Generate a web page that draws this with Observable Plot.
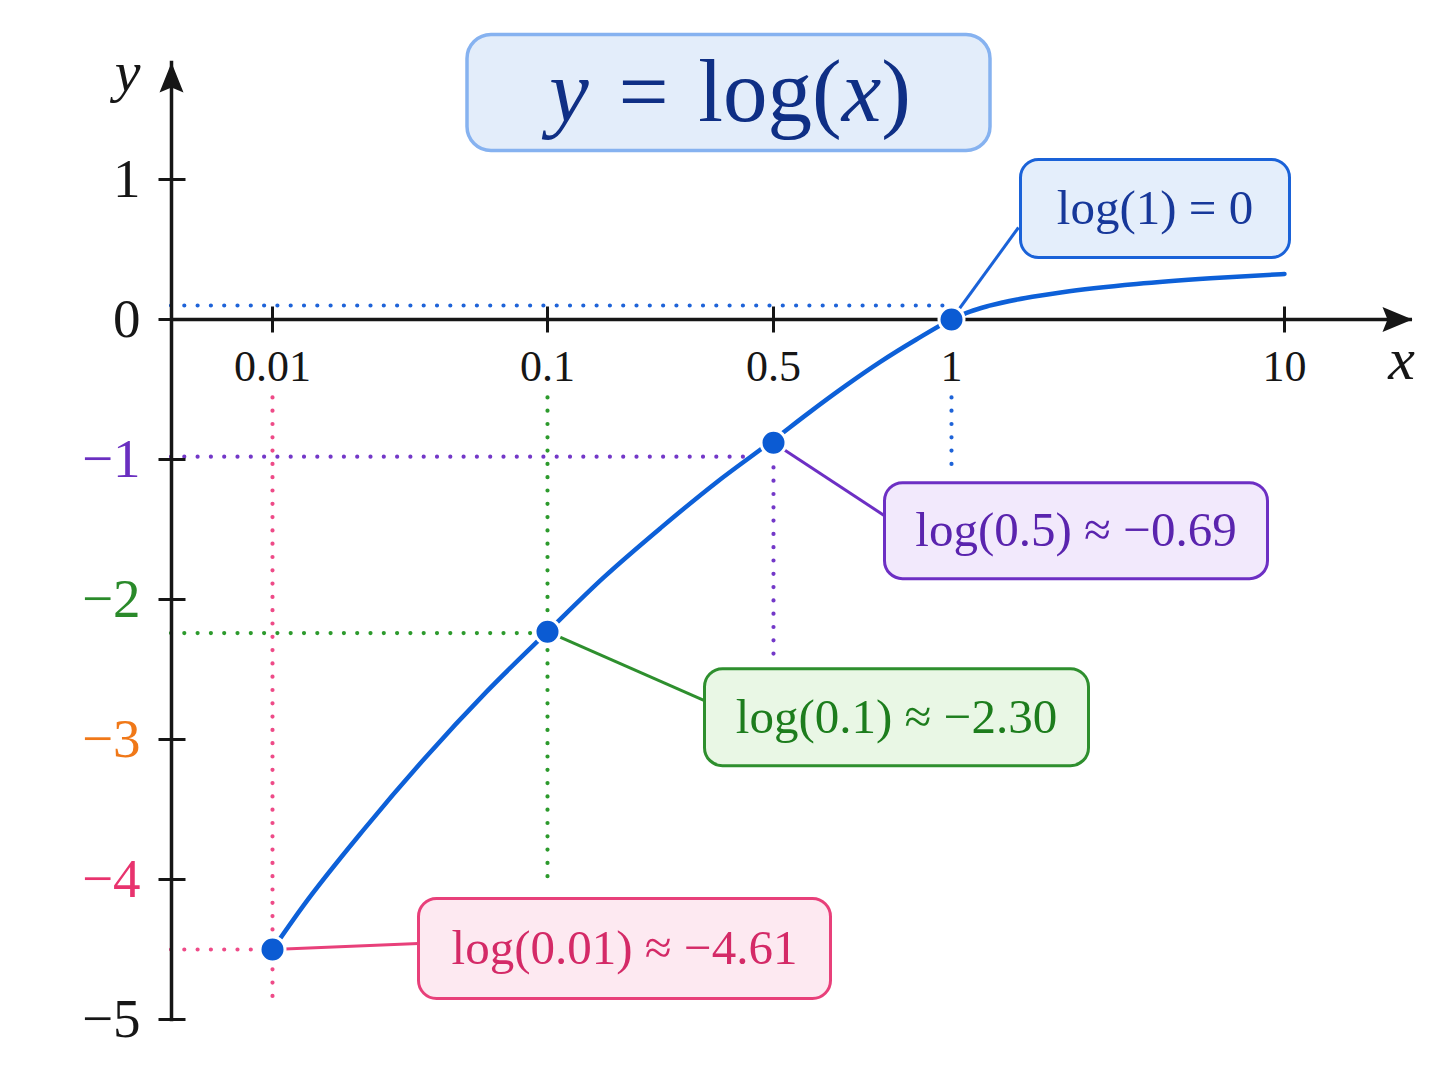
<!DOCTYPE html>
<html><head><meta charset="utf-8">
<script src="https://cdn.jsdelivr.net/npm/d3@7"></script>
<script src="https://cdn.jsdelivr.net/npm/@observablehq/plot@0.6"></script>
<style>html,body{margin:0;padding:0;background:#fff;} #chart{width:1448px;height:1086px;}</style>
</head><body><div id="chart"></div>
<script>
// ---------- data ----------
const xTickValues = [0.01, 0.1, 0.5, 1, 10];
const xTickLabels = ["0.01", "0.1", "0.5", "1", "10"];
const yTickValues = [1, 0, -1, -2, -3, -4, -5];
const yTickLabels = ["1", "0", "−1", "−2", "−3", "−4", "−5"];
const curveX = [0.01, 0.02, 0.04, 0.06, 0.08, 0.1, 0.2, 0.3, 0.4, 0.5, 0.6, 0.7, 0.8, 0.9, 1, 1.5, 2, 3, 4, 6, 8, 10];
const curveY = [-4.5, -4.19, -3.64, -3.13, -2.66, -2.23, -1.84, -1.49, -1.16, -0.86, -0.665, -0.478, -0.303, -0.145, 0, 0.057, 0.097, 0.154, 0.195, 0.253, 0.294, 0.325];
const pointX = [0.01, 0.1, 0.5, 1];
const pointY = [-4.5, -2.23, -0.88, 0];
const pointLabels = ["log(0.01) ≈ −4.61", "log(0.1) ≈ −2.30", "log(0.5) ≈ −0.69", "log(1) = 0"];
const guideLevelY = [-4.5, -2.24, -0.98, 0.1];
const guideEndX = [0.01, 0.1, 0.46, 0.98];
const guideTopY = [-0.56, -0.56, -1.06, -0.56];
const guideBottomY = [-4.84, -4.0, -2.4, -1.06];
const titleText = "y = log(x)";

// ---------- styles / layout ----------
const FONT = '"Liberation Serif", "Times New Roman", Times, serif';
const INK = "#161616";
const yLabelColors = ["#161616", "#161616", "#6a2fc0", "#2a8a2a", "#f07818", "#e8336e", "#161616"];
const calloutStyle = [
  {dot: "#ee4b88", line: "#e8407a", fill: "#fde9f1", text: "#d42a67", dx: 352, dy: -1, w: 412, h: 100, lx: 146, ly: -6},
  {dot: "#2c9a2c", line: "#2e8f2e", fill: "#e9f7e5", text: "#1d7d1d", dx: 349, dy: 85.5, w: 384, h: 97, lx: 157, ly: 69},
  {dot: "#7338c8", line: "#6d2fc4", fill: "#f2e9fc", text: "#5a24ae", dx: 302.5, dy: 88, w: 383, h: 96, lx: 111, ly: 73},
  {dot: "#1e63d8", line: "#1a62d8", fill: "#e4eefb", text: "#17389a", dx: 203.5, dy: -111, w: 269, h: 98, lx: 67, ly: -92}
];

// custom symbols
function roundRect(w, h, r) {
  return {draw(ctx) {
    const x0 = -w / 2, y0 = -h / 2, x1 = w / 2, y1 = h / 2;
    ctx.moveTo(x0 + r, y0);
    ctx.lineTo(x1 - r, y0); ctx.arcTo(x1, y0, x1, y0 + r, r);
    ctx.lineTo(x1, y1 - r); ctx.arcTo(x1, y1, x1 - r, y1, r);
    ctx.lineTo(x0 + r, y1); ctx.arcTo(x0, y1, x0, y1 - r, r);
    ctx.lineTo(x0, y0 + r); ctx.arcTo(x0, y0, x0 + r, y0, r);
    ctx.closePath();
  }};
}
function segment(ex, ey) { return {draw(ctx) { ctx.moveTo(0, 0); ctx.lineTo(ex, ey); }}; }
const vTick = {draw(ctx) { ctx.moveTo(0, -13); ctx.lineTo(0, 13); }};
const hTick = {draw(ctx) { ctx.moveTo(-13, 0); ctx.lineTo(14, 0); }};
const arrowUp = {draw(ctx) { ctx.moveTo(0, 0); ctx.lineTo(12, 30); ctx.lineTo(0, 25); ctx.lineTo(-12, 30); ctx.closePath(); }};
const arrowRight = {draw(ctx) { ctx.moveTo(0, 0); ctx.lineTo(-30, -12.5); ctx.lineTo(-25, 0); ctx.lineTo(-30, 12.5); ctx.closePath(); }};

// ---------- tables ----------
const curve = curveX.map((x, i) => ({x, y: curveY[i]}));
const pts = pointX.map((x, i) => ({x, y: pointY[i], label: pointLabels[i]}));
const guides = pointX.map((x, i) => ({x, level: guideLevelY[i], end: guideEndX[i], top: guideTopY[i], bottom: guideBottomY[i]}));

const dotted = {strokeWidth: 4.2, strokeDasharray: "0 13.3", strokeLinecap: "round"};

const marks = [
  ...guides.map((g, i) => Plot.ruleY([g], {y: "level", x1: () => 0, x2: "end", stroke: calloutStyle[i].dot, ...dotted})),
  ...guides.map((g, i) => Plot.ruleX([g], {x: "x", y1: "top", y2: "bottom", stroke: calloutStyle[i].dot, ...dotted})),
  // axes
  Plot.ruleY([0], {stroke: INK, strokeWidth: 3.5}),
  Plot.frame({anchor: "left", stroke: INK, strokeWidth: 3.5}),
  Plot.dot(xTickValues, {x: d => d, y: () => 0, symbol: vTick, stroke: INK, strokeWidth: 3, fill: "none"}),
  Plot.dot(yTickValues, {y: d => d, frameAnchor: "left", symbol: hTick, stroke: INK, strokeWidth: 3, fill: "none"}),
  Plot.dot([0], {y: d => d, frameAnchor: "right", symbol: arrowRight, fill: INK, stroke: "none"}),
  Plot.dot([0], {frameAnchor: "top-left", symbol: arrowUp, fill: INK, stroke: "none"}),
  Plot.text(xTickValues, {x: d => d, y: () => 0, text: (d, i) => xTickLabels[i], dy: 47, fontSize: 44, fontFamily: FONT, fill: INK}),
  Plot.text(yTickValues, {y: d => d, frameAnchor: "left", text: (d, i) => yTickLabels[i], textAnchor: "end", lineAnchor: "middle", dx: -31, fontSize: 55, fontFamily: FONT, fill: (d, i) => yLabelColors[i]}),
  Plot.text(["y"], {frameAnchor: "top-left", textAnchor: "middle", lineAnchor: "middle", dx: -44, dy: 10, fontSize: 58, fontStyle: "italic", fontFamily: FONT, fill: INK}),
  Plot.text(["x"], {y: () => 0, frameAnchor: "right", textAnchor: "middle", lineAnchor: "middle", dx: -11, dy: 40, fontSize: 60, fontStyle: "italic", fontFamily: FONT, fill: INK}),
  // curve
  Plot.line(curve, {x: "x", y: "y", stroke: "#0d60d8", strokeWidth: 4.5, curve: "monotone-x"}),
  // leaders
  ...pts.map((p, i) => Plot.dot([p], {x: "x", y: "y", symbol: segment(calloutStyle[i].lx, calloutStyle[i].ly), stroke: calloutStyle[i].line, strokeWidth: 3, fill: "none"})),
  // callout boxes & texts
  ...pts.map((p, i) => Plot.dot([p], {x: "x", y: "y", dx: calloutStyle[i].dx, dy: calloutStyle[i].dy, symbol: roundRect(calloutStyle[i].w, calloutStyle[i].h, 18), fill: calloutStyle[i].fill, stroke: calloutStyle[i].line, strokeWidth: 3})),
  ...pts.map((p, i) => Plot.text([p], {x: "x", y: "y", text: "label", dx: calloutStyle[i].dx, dy: calloutStyle[i].dy, fontSize: 49, fontFamily: FONT, fill: calloutStyle[i].text})),
  // points
  Plot.dot(pts, {x: "x", y: "y", r: 12.5, fill: "#0b5bd3", stroke: "white", strokeWidth: 3}),
  // title
  Plot.dot([0], {frameAnchor: "top", dx: -63.5, dy: 30, symbol: roundRect(523, 116, 24), fill: "#e3edfa", stroke: "#86b2f0", strokeWidth: 3.5}),
  Plot.text([titleText], {frameAnchor: "top", textAnchor: "middle", lineAnchor: "middle", dx: -62, dy: 30, fontSize: 89, fontFamily: FONT, fill: "#0f2f85"})
];

const svg = Plot.plot({
  width: 1448,
  height: 1086,
  marginTop: 62,
  marginLeft: 171,
  marginRight: 36,
  marginBottom: 67,
  style: {background: "white", overflow: "visible"},
  x: {type: "linear", domain: [0, ...xTickValues], range: [171, 272, 547, 773, 951, 1284], axis: null},
  y: {type: "linear", domain: [-5, 1], range: [1019, 179], axis: null},
  color: {type: "identity"},
  marks
});
document.getElementById("chart").appendChild(svg);

// italic variables in the title
for (const t of svg.querySelectorAll("text")) {
  if (t.textContent === titleText) {
    while (t.firstChild) t.removeChild(t.firstChild);
    const parts = [["y", true], ["\u2004=\u2004log(", false], ["x", true], [")", false]];
    for (const [s, it] of parts) {
      const ts = document.createElementNS("http://www.w3.org/2000/svg", "tspan");
      ts.textContent = s;
      if (it) ts.setAttribute("font-style", "italic");
      t.appendChild(ts);
    }
  }
}
</script>
</body></html>
